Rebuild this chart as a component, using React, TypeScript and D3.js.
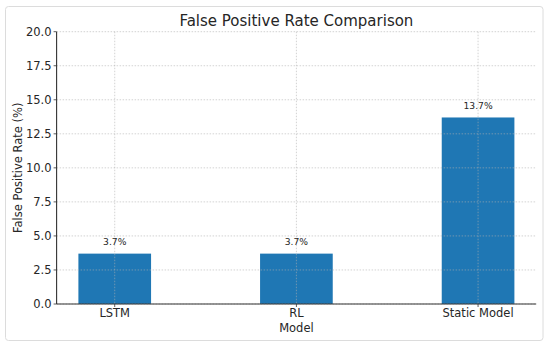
import React from "react";
import * as d3 from "d3";

const categories = ["LSTM", "RL", "Static Model"];
const values = [3.7, 3.7, 13.7];
const yTicks = [0, 2.5, 5, 7.5, 10, 12.5, 15, 17.5, 20];
const title = "False Positive Rate Comparison";
const xLabel = "Model";
const yLabel = "False Positive Rate (%)";

export default function App() {
  const W = 550, H = 346;
  const left = 56.6, right = 536.2, top = 31.7, bottom = 304;
  const font = "DejaVu Sans, sans-serif";
  const text = "#262626";
  const fs = 11.5;

  const x = d3.scaleLinear().domain([-0.32, categories.length - 1 + 0.32]).range([left, right]);
  const y = d3.scaleLinear().domain([0, 20]).range([bottom, top]);
  const bw = x(0.4) - x(0);

  return (
    <svg width={W} height={H} style={{ position: "absolute", left: 0, top: 0 }}>
      <rect x={0} y={0} width={W} height={H} fill="#fff" />
      <rect x={5.5} y={6.5} width={537.5} height={334} rx={3} fill="#fff" stroke="#dcdcdc" strokeWidth={1} />
      {categories.map((c, i) => (
        <rect key={c} x={x(i) - bw / 2} y={y(values[i])} width={bw} height={y(0) - y(values[i])} fill="#1f77b4" />
      ))}
      {yTicks.map((t) => (
        <line key={"gy" + t} x1={left} x2={right} y1={y(t)} y2={y(t)} stroke="#b0b0b0" strokeOpacity={0.7} strokeWidth={0.8} strokeDasharray="1.5,1.5" />
      ))}
      {categories.map((c, i) => (
        <line key={"gx" + c} x1={x(i)} x2={x(i)} y1={top} y2={bottom} stroke="#b0b0b0" strokeOpacity={0.7} strokeWidth={0.8} strokeDasharray="1.5,1.5" />
      ))}
      <line x1={left} x2={left} y1={top} y2={bottom} stroke="#333" strokeWidth={1.1} />
      <line x1={left} x2={right} y1={bottom} y2={bottom} stroke="#333" strokeWidth={1.1} />
      {yTicks.map((t) => (
        <g key={"ty" + t}>
          <line x1={left - 3} x2={left} y1={y(t)} y2={y(t)} stroke="#333" strokeWidth={0.8} />
          <text x={left - 5} y={y(t)} dy="0.36em" textAnchor="end" fontFamily={font} fontSize={fs} fill={text}>
            {d3.format(".1f")(t)}
          </text>
        </g>
      ))}
      {categories.map((c, i) => (
        <g key={"tx" + c}>
          <line x1={x(i)} x2={x(i)} y1={bottom} y2={bottom + 3} stroke="#333" strokeWidth={0.8} />
          <text x={x(i)} y={316.8} textAnchor="middle" fontFamily={font} fontSize={fs} fill={text}>{c}</text>
          <text x={x(i)} y={y(values[i]) - 8.5} textAnchor="middle" fontFamily={font} fontSize={9.2} fill={text}>
            {values[i].toFixed(1) + "%"}
          </text>
        </g>
      ))}
      <text x={(left + right) / 2} y={331.8} textAnchor="middle" fontFamily={font} fontSize={fs} fill={text}>{xLabel}</text>
      <text transform={`translate(22,${(top + bottom) / 2}) rotate(-90)`} textAnchor="middle" fontFamily={font} fontSize={fs} fill={text}>{yLabel}</text>
      <text x={(left + right) / 2} y={25.5} textAnchor="middle" fontFamily={font} fontSize={15} fill={text}>{title}</text>
    </svg>
  );
}
